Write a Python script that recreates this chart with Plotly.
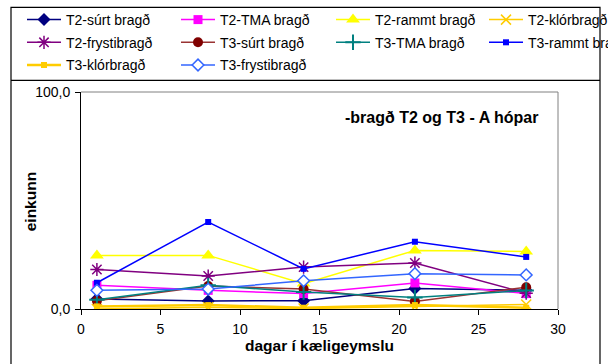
import plotly.graph_objects as go

# Storage days in the cold room
days = [1, 8, 14, 21, 28]

# Off-flavour scores (einkunn) per group
t2_surt = [4.6, 3.7, 3.8, 9.5, 8.6]
t2_tma = [10.9, 8.6, 7.1, 12.0, 7.1]
t2_rammt = [24.7, 24.7, 11.7, 27.0, 26.5]
t2_klor = [0.0, 0.8, 0.2, 1.0, 2.1]
t2_frysti = [18.2, 15.2, 19.3, 21.2, 7.3]
t3_surt = [3.8, 10.6, 9.2, 3.5, 10.0]
t3_tma = [4.3, 10.9, 7.8, 5.3, 8.5]
t3_rammt = [12.1, 40.1, 18.5, 31.0, 24.0]
t3_klor = [1.2, 1.8, 0.6, 1.8, 0.6]
t3_frysti = [8.6, 9.2, 13.0, 16.3, 15.7]

FONT = "Liberation Sans, Arial, sans-serif"

W, H = 608, 364
L, R, T, B = 81, 50, 91.7, 55.3

series = [
    # name, values, line colour, symbol, size, fill, marker line colour, marker line width, line width, legend
    ("T2-súrt bragð", t2_surt, "#000080", "diamond", 10, "#000080", "#000080", 0, 1.5, "legend"),
    ("T2-TMA bragð", t2_tma, "#FF00FF", "square", 9, "#FF00FF", "#FF00FF", 0, 1.5, "legend2"),
    ("T2-rammt bragð", t2_rammt, "#FFFF00", "triangle-up", 12, "#FFFF00", "#FFFF00", 0, 1.5, "legend3"),
    ("T2-klórbragð", t2_klor, "#FFCC00", "x-thin-open", 10, "#FFCC00", "#FFCC00", 1.5, 1.5, "legend4"),
    ("T2-frystibragð", t2_frysti, "#800080", "asterisk-open", 11, "#800080", "#800080", 1.5, 1.5, "legend"),
    ("T3-súrt bragð", t3_surt, "#993333", "circle", 10, "#800000", "#800000", 0, 1.5, "legend2"),
    ("T3-TMA bragð", t3_tma, "#008080", "cross-thin-open", 11, "#008080", "#008080", 2, 1.5, "legend3"),
    ("T3-rammt bragð", t3_rammt, "#0000FF", "square", 6, "#0000FF", "#0000FF", 0, 1.5, "legend4"),
    ("T3-klórbragð", t3_klor, "#FFCC00", "square", 6, "#FFCC00", "#FFCC00", 0, 2.5, "legend"),
    ("T3-frystibragð", t3_frysti, "#3366FF", "diamond", 9, "#FFFFFF", "#3366FF", 1.5, 1.5, "legend2"),
]

fig = go.Figure()
for i, (name, vals, lc, sym, size, fill, mlc, mlw, lw, leg) in enumerate(series):
    fig.add_trace(go.Scatter(
        x=days, y=vals, name=name, mode="lines+markers",
        line=dict(color=lc, width=lw),
        marker=dict(symbol=sym, size=size, color=fill,
                    line=dict(color=mlc, width=mlw)),
        legend=leg, legendgroup=f"g{i}",
    ))

# Four legend columns laid out like a grid
col_x = [22, 176, 331, 484]
legend_common = dict(
    xref="container", yref="container", xanchor="left", yanchor="top",
    y=1 - 4 / H, orientation="v", bgcolor="rgba(0,0,0,0)", borderwidth=0,
    font=dict(family=FONT, size=14, color="black"),
    tracegroupgap=1.5, traceorder="grouped", itemwidth=34,
)
layout_legends = {}
for k, key in enumerate(["legend", "legend2", "legend3", "legend4"]):
    layout_legends[key] = dict(legend_common, x=col_x[k] / W)


def px_x(p):
    return (p - L) / (W - L - R)


def px_y(p):
    return (H - B - p) / (H - T - B)


shapes = [
    # plot-area border (top and right)
    dict(type="line", xref="paper", yref="paper", x0=0, x1=1, y0=1, y1=1,
         line=dict(color="#808080", width=1)),
    dict(type="line", xref="paper", yref="paper", x0=1, x1=1, y0=0, y1=1,
         line=dict(color="#808080", width=1)),
    # chart frame and legend box
    dict(type="rect", xref="paper", yref="paper",
         x0=px_x(11), x1=px_x(600), y0=px_y(368), y1=px_y(7),
         line=dict(color="black", width=1.2), layer="below"),
    dict(type="line", xref="paper", yref="paper",
         x0=px_x(11), x1=px_x(600), y0=px_y(80), y1=px_y(80),
         line=dict(color="black", width=1.2)),
]

fig.update_layout(
    width=W, height=H,
    margin=dict(l=L, r=R, t=T, b=B, autoexpand=False),
    paper_bgcolor="white", plot_bgcolor="white",
    separators=",.",
    font=dict(family=FONT, size=14, color="black"),
    showlegend=True,
    shapes=shapes,
    annotations=[
        dict(text="<b>-bragð T2 og T3 - A hópar</b>", xref="paper", yref="paper",
             x=px_x(441), y=px_y(117), xanchor="center", yanchor="middle",
             showarrow=False, font=dict(family=FONT, size=16, color="black")),
        dict(text="<b>einkunn</b>", xref="paper", yref="paper",
             x=px_x(30), y=px_y(202), xanchor="center", yanchor="middle",
             textangle=-90, showarrow=False,
             font=dict(family=FONT, size=15.5, color="black")),
    ],
    xaxis=dict(
        range=[0, 30], dtick=5, tick0=0, showgrid=False, zeroline=False,
        showline=True, linecolor="black", linewidth=1,
        ticks="outside", ticklen=5, tickcolor="black", tickwidth=1,
        tickfont=dict(family=FONT, size=14), ticklabelstandoff=2,
        title=dict(text="<b>dagar í kæligeymslu</b>", standoff=2,
                   font=dict(family=FONT, size=15.5)),
    ),
    yaxis=dict(
        range=[0, 100], dtick=100, tick0=0, tickformat=".1f",
        showgrid=False, zeroline=False,
        showline=True, linecolor="black", linewidth=1,
        ticks="outside", ticklen=5, tickcolor="black", tickwidth=1,
        tickfont=dict(family=FONT, size=14), ticklabelstandoff=2,
    ),
    **layout_legends,
)

fig.write_html("out.html")
